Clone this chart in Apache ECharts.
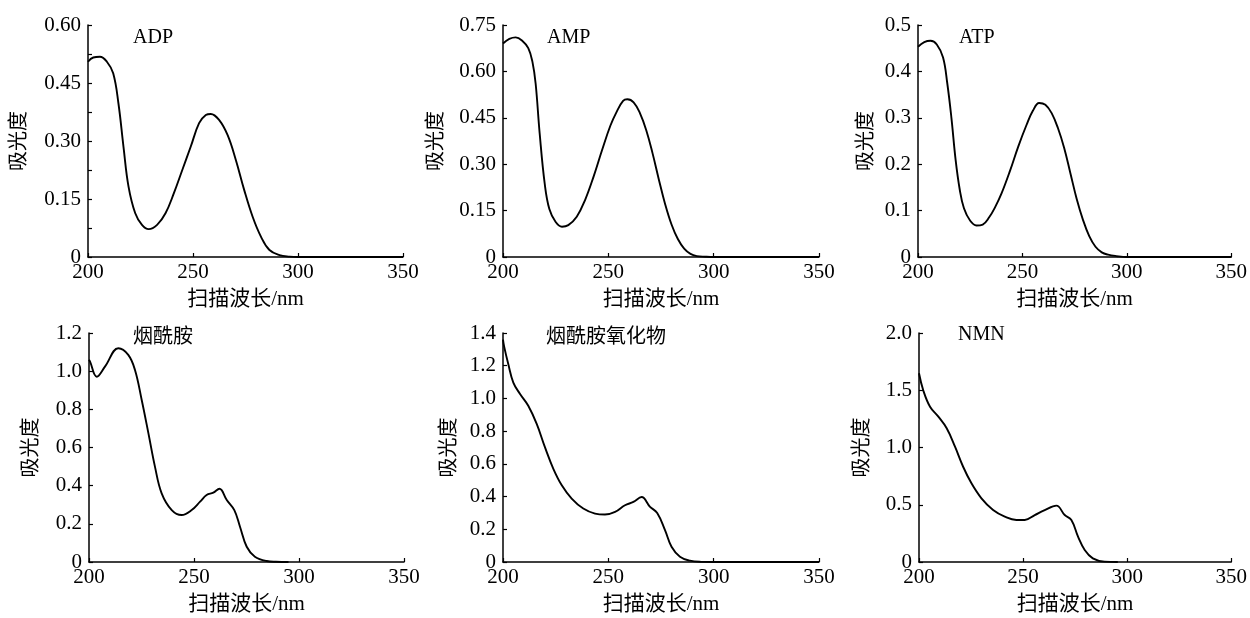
<!DOCTYPE html>
<html>
<head>
<meta charset="utf-8">
<script src="https://cdn.jsdelivr.net/npm/echarts@6/dist/echarts.min.js"></script>
<style>
html,body{margin:0;padding:0;background:#fff;}
#c{width:1250px;height:618px;}
</style>
</head>
<body>
<div id="c"></div>
<script>
// ---- data (wavelength nm, absorbance) ----
var adpX = [200,202.5,205.7,209,212,214.5,216.9,219.3,222.5,225.7,228.9,232.9,236.9,240.9,244.9,248.9,252.9,256.1,258.5,262.5,266.5,270.4,274.4,278.4,282.4,286.4,291.2,296,300,320,350];
var adpY = [0.505,0.516,0.518,0.505,0.475,0.397,0.285,0.182,0.113,0.083,0.072,0.083,0.113,0.165,0.225,0.285,0.346,0.367,0.370,0.354,0.315,0.251,0.173,0.104,0.052,0.018,0.005,0.001,0,0,0];

var ampX = [200,203,206,209,212,214,215.5,217.4,219.8,222,225,228,231,235,239,243,247,251,254,257,259,262,265,268,271,274,277,280,283,286,289,292,296,300,320,350];
var ampY = [0.69,0.705,0.71,0.70,0.675,0.63,0.56,0.40,0.237,0.155,0.113,0.098,0.103,0.13,0.185,0.26,0.345,0.425,0.47,0.505,0.51,0.50,0.465,0.41,0.335,0.25,0.17,0.105,0.058,0.027,0.01,0.003,0.001,0,0,0];

var atpX = [200,203,206,209,212,214,216,218,220,222,225,228,231,234,237,240,244,248,252,255,258,261,264,267,270,273,276,279,282,285,288,291,295,300,320,350];
var atpY = [0.453,0.463,0.466,0.458,0.43,0.375,0.30,0.21,0.145,0.105,0.078,0.068,0.07,0.085,0.108,0.137,0.185,0.238,0.285,0.315,0.332,0.328,0.31,0.278,0.235,0.18,0.125,0.08,0.045,0.022,0.01,0.005,0.002,0,0,0];

var namX = [200,200.5,203.7,207.6,214,218.7,221.9,225.1,228.3,231.4,234.6,239.4,244.1,248.9,252.9,256,259.2,262.1,265.6,269.2,271.9,275.1,279,284.6,289,295];
var namY = [1.06,1.05,0.971,1.024,1.12,1.085,1.006,0.849,0.674,0.50,0.36,0.272,0.246,0.272,0.316,0.351,0.363,0.384,0.325,0.272,0.185,0.08,0.028,0.005,0.001,0];

var naoX = [200,200.5,202.5,204.9,208.1,212,216,219.9,223.9,227.9,232.6,238.1,243.7,248.4,253.2,257.9,261.9,265.8,269.8,273.2,276.9,280,284,288.7,294,300,320,350];
var naoY = [1.36,1.32,1.21,1.097,1.027,0.955,0.844,0.702,0.57,0.469,0.388,0.327,0.296,0.29,0.306,0.347,0.367,0.397,0.337,0.30,0.195,0.093,0.032,0.008,0.001,0,0,0];

var nmnX = [200,202,205.3,209.3,213.3,217.3,221.2,225.2,230,235.6,241.2,246.8,250.8,255.6,260.4,266,270,273.2,276.4,279.6,283.5,289.1,295.5];
var nmnY = [1.648,1.502,1.356,1.269,1.168,1.007,0.832,0.687,0.556,0.454,0.396,0.367,0.367,0.41,0.454,0.492,0.41,0.367,0.221,0.105,0.032,0.003,0];

// ---- panel titles and tick labels ----
var titles = ['ADP','AMP','ATP','烟酰胺','烟酰胺氧化物','NMN'];
var xTickLabels = ['200','250','300','350'];
var adpTicks = ['0','0.15','0.30','0.45','0.60'];
var ampTicks = ['0','0.15','0.30','0.45','0.60','0.75'];
var atpTicks = ['0','0.1','0.2','0.3','0.4','0.5'];
var namTicks = ['0','0.2','0.4','0.6','0.8','1.0','1.2'];
var naoTicks = ['0','0.2','0.4','0.6','0.8','1.0','1.2','1.4'];
var nmnTicks = ['0','0.5','1.0','1.5','2.0'];
var yName = '吸光度';
var xName = '扫描波长/nm';

function pairs(xs, ys){ var o=[]; for(var i=0;i<xs.length;i++) o.push([xs[i], ys[i]]); return o; }

var FONT = '"Liberation Serif", "Noto Sans CJK SC", serif';
var panels = [
  {x:adpX, y:adpY, ticks:adpTicks, max:0.6, step:0.15, grid:{left:88, top:25, width:315, height:232}, gap:58, minor:true, title:{left:128, top:23}},
  {x:ampX, y:ampY, ticks:ampTicks, max:0.75, step:0.15, grid:{left:503, top:25, width:316, height:232}, gap:56, minor:false, title:{left:542, top:23}},
  {x:atpX, y:atpY, ticks:atpTicks, max:0.5, step:0.1, grid:{left:918, top:25, width:315, height:232}, gap:41, minor:false, title:{left:954, top:23}},
  {x:namX, y:namY, ticks:namTicks, max:1.2, step:0.2, grid:{left:89, top:333, width:315, height:229}, gap:47, minor:false, title:{left:128, top:323}},
  {x:naoX, y:naoY, ticks:naoTicks, max:1.4, step:0.2, grid:{left:503, top:333, width:316, height:229}, gap:43, minor:false, title:{left:541, top:323}},
  {x:nmnX, y:nmnY, ticks:nmnTicks, max:2.0, step:0.5, grid:{left:919, top:333, width:314, height:229}, gap:46, minor:false, title:{left:953, top:320}}
];

var option = {animation:false, backgroundColor:'#fff', title:[], grid:[], xAxis:[], yAxis:[], series:[]};
var axisLine = {show:true, lineStyle:{color:'#000', width:1.5}};
panels.forEach(function(p, i){
  option.title.push({text:titles[i], left:p.title.left, top:p.title.top, textStyle:{fontFamily:FONT, fontSize:20, fontWeight:'normal', color:'#000'}});
  option.grid.push(p.grid);
  option.xAxis.push({
    type:'value', gridIndex:i, min:200, max:350, interval:50,
    name:xName, nameLocation:'middle', nameGap:32,
    nameTextStyle:{fontFamily:FONT, fontSize:21, color:'#000'},
    axisLine:axisLine, axisTick:{show:true, inside:true, length:4, lineStyle:{color:'#000', width:1.2}},
    axisLabel:{margin:5, fontFamily:FONT, fontSize:21, color:'#000', formatter:function(v){ return xTickLabels[Math.round((v-200)/50)]; }},
    splitLine:{show:false}
  });
  var ticks = p.ticks, step = p.step;
  option.yAxis.push({
    type:'value', gridIndex:i, min:0, max:p.max, interval:step,
    name:yName, nameLocation:'middle', nameGap:p.gap, nameRotate:90,
    nameTextStyle:{fontFamily:FONT, fontSize:20, color:'#000'},
    axisLine:axisLine, axisTick:{show:true, inside:true, length:4, lineStyle:{color:'#000', width:1.2}},
    minorTick:{show:p.minor, splitNumber:2, length:4, lineStyle:{color:'#000', width:1.2}},
    axisLabel:{margin:7, fontFamily:FONT, fontSize:21, color:'#000', formatter:function(v){ return ticks[Math.round(v/step)]; }},
    splitLine:{show:false}
  });
  option.series.push({
    type:'line', xAxisIndex:i, yAxisIndex:i, data:pairs(p.x, p.y),
    smooth:0.4, showSymbol:false, symbol:'none',
    lineStyle:{color:'#000', width:1.9}
  });
});

var chart = echarts.init(document.getElementById('c'), null, {renderer:'canvas'});
chart.setOption(option);
</script>
</body>
</html>
